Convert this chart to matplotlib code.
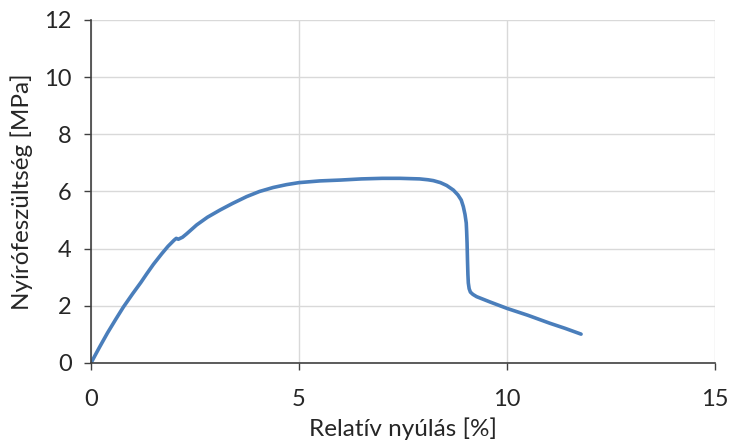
import matplotlib.pyplot as plt

# Relative elongation [%] and shear stress [MPa]
strain = [0.0, 0.2, 0.4, 0.6, 0.78, 1.0, 1.2, 1.34, 1.5, 1.7, 1.85, 2.0, 2.05, 2.1,
          2.2, 2.3, 2.54, 2.8, 3.1, 3.4, 3.74, 4.05, 4.38, 4.7, 5.0, 5.5, 6.0,
          6.5, 7.0, 7.43, 7.9, 8.1, 8.23, 8.4, 8.55, 8.71, 8.82, 8.9, 8.95, 8.99,
          9.02, 9.03, 9.04, 9.05, 9.06, 9.07, 9.09, 9.12, 9.18, 9.27, 9.6, 10.0,
          10.5, 11.03, 11.4, 11.78]
stress = [0.0, 0.54, 1.06, 1.54, 1.96, 2.42, 2.82, 3.12, 3.45, 3.82, 4.08, 4.30, 4.36,
          4.33, 4.40, 4.52, 4.83, 5.1, 5.35, 5.58, 5.82, 6.0, 6.14, 6.24, 6.31,
          6.37, 6.40, 6.44, 6.46, 6.46, 6.44, 6.41, 6.38, 6.31, 6.21, 6.05, 5.88,
          5.7, 5.47, 5.2, 4.9, 4.6, 4.2, 3.6, 3.1, 2.8, 2.6, 2.48, 2.40, 2.32,
          2.13, 1.91, 1.67, 1.39, 1.21, 1.01]

plt.rcParams['font.family'] = ['Lato', 'DejaVu Sans']

fig = plt.figure(figsize=(7.32, 4.43), dpi=100)
ax = fig.add_axes([0.1243, 0.1806, 0.8525, 0.7743])

ax.plot(strain, stress, color='#4A7EBB', linewidth=2.6,
        solid_capstyle='round', solid_joinstyle='round')

ax.set_xlim(0, 15)
ax.set_ylim(0, 12)
ax.set_xticks([0, 5, 10, 15])
ax.set_yticks(range(0, 13, 2))
ax.grid(True, color='#D9D9D9', linewidth=1)
ax.set_axisbelow(True)

for side in ['top', 'right']:
    ax.spines[side].set_visible(False)
for side in ['left', 'bottom']:
    ax.spines[side].set_color('#404040')
    ax.spines[side].set_linewidth(1.2)

ax.tick_params(axis='both', labelsize=17, colors='#404040', labelcolor='#262626',
               length=5, width=1)
ax.tick_params(axis='x', pad=14)
ax.tick_params(axis='y', pad=9)

ax.set_xlabel('Relatív nyúlás [%]', fontsize=17.5, color='#262626', labelpad=5)
ax.set_ylabel('Nyírófeszültség [MPa]', fontsize=17.5, color='#262626', labelpad=8)

fig.savefig('out.png', dpi=100)
